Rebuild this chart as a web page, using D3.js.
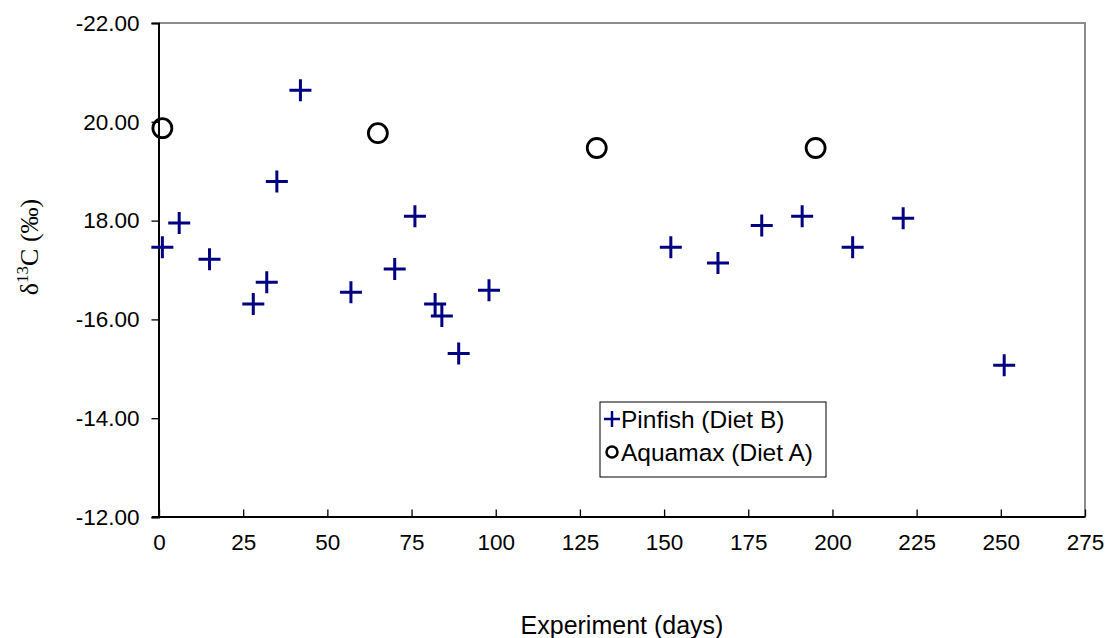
<!DOCTYPE html>
<html>
<head>
<meta charset="utf-8">
<script src="https://cdn.jsdelivr.net/npm/d3@7"></script>
<style>
  body { margin: 0; background: #fff; }
  text { font-family: "Liberation Sans", Arial, sans-serif; }
</style>
</head>
<body>
<div id="chart"></div>
<script>
//Data
var pinfishDays = [1, 6, 15, 28, 32, 35, 42, 57, 70, 76, 82, 84, 89, 98, 152, 166, 179, 191, 206, 221, 251];
var pinfishD13C = [-17.46, -17.95, -17.22, -16.31, -16.75, -18.79, -20.64, -16.55, -17.02, -18.09, -16.31, -16.07, -15.31, -16.59, -17.46, -17.14, -17.9, -18.09, -17.46, -18.05, -15.07];
var aquamaxDays = [1, 65, 130, 195];
var aquamaxD13C = [-19.87, -19.77, -19.47, -19.47];

var xTicks = [0, 25, 50, 75, 100, 125, 150, 175, 200, 225, 250, 275];
var yTicks = [-22, -20, -18, -16, -14, -12];
var yTickLabels = ["-22.00", "20.00", "18.00", "-16.00", "-14.00", "-12.00"];

var seriesNames = ["Pinfish (Diet B)", "Aquamax (Diet A)"];

//Constants for the SVG
var width = 1109,
  height = 638;

var plotLeft = 159,
  plotRight = 1085,
  plotTop = 23,
  plotBottom = 517;

var x = d3.scaleLinear().domain([0, 275]).range([plotLeft, plotRight]);
var y = d3.scaleLinear().domain([-22, -12]).range([plotTop, plotBottom]);

var svg = d3
  .select("#chart")
  .append("svg")
  .attr("width", width)
  .attr("height", height);

//Plot area border (grey top and right)
svg
  .append("path")
  .attr("d", "M" + plotLeft + "," + plotTop + "H" + plotRight + "V" + plotBottom)
  .attr("fill", "none")
  .attr("stroke", "#8c8c8c")
  .attr("stroke-width", 2);

//Y axis, ticks pointing out (-0.5 undoes d3's half pixel offset so the 2px line is crisp)
var yAxis = svg
  .append("g")
  .attr("transform", "translate(" + (plotLeft - 0.5) + ",0)")
  .call(
    d3
      .axisLeft(y)
      .tickValues(yTicks)
      .tickSize(7)
      .tickPadding(12)
      .tickFormat(function (d, i) {
        return yTickLabels[i];
      })
  );

//X axis, ticks pointing in
var xAxis = svg
  .append("g")
  .attr("transform", "translate(0," + (plotBottom - 0.5) + ")")
  .call(
    d3
      .axisBottom(x)
      .tickValues(xTicks)
      .tickSizeInner(-7)
      .tickSizeOuter(0)
      .tickPadding(18)
  );

[yAxis, xAxis].forEach(function (ax) {
  ax.select(".domain").attr("stroke", "#000").attr("stroke-width", 2);
  ax.selectAll(".tick line").attr("stroke", "#000").attr("stroke-width", 1.3);
  ax.selectAll(".tick text")
    .attr("fill", "#000")
    .style("font-size", "22.5px")
    .style("font-family", "'Liberation Sans', Arial, sans-serif");
});

//x axis line runs a bit left of the y axis
svg
  .append("line")
  .attr("x1", plotLeft - 7)
  .attr("x2", plotLeft)
  .attr("y1", plotBottom)
  .attr("y2", plotBottom)
  .attr("stroke", "#000")
  .attr("stroke-width", 2);

//Axis titles
svg
  .append("text")
  .attr("x", (plotLeft + plotRight) / 2)
  .attr("y", 634)
  .attr("text-anchor", "middle")
  .style("font-size", "25px")
  .text("Experiment (days)");

var yTitle = svg
  .append("text")
  .attr("transform", "translate(38,247) rotate(-90)")
  .attr("text-anchor", "middle")
  .style("font-family", "'Liberation Serif', 'Times New Roman', serif")
  .style("font-size", "26px");
yTitle.append("tspan").text("δ");
yTitle.append("tspan").attr("dy", -10).style("font-size", "17px").text("13");
yTitle.append("tspan").attr("dy", 10).text("C (‰)");

//Markers
function crossPath(s) {
  return "M" + -s + ",0H" + s + "M0," + -s + "V" + s;
}

var pinfish = pinfishDays.map(function (d, i) {
  return { day: d, value: pinfishD13C[i] };
});
var aquamax = aquamaxDays.map(function (d, i) {
  return { day: d, value: aquamaxD13C[i] };
});

svg
  .append("g")
  .selectAll("circle")
  .data(aquamax)
  .enter()
  .append("circle")
  .attr("cx", function (d) {
    return x(d.day);
  })
  .attr("cy", function (d) {
    return y(d.value);
  })
  .attr("r", 9.5)
  .attr("fill", "none")
  .attr("stroke", "#000")
  .attr("stroke-width", 2.8);

svg
  .append("g")
  .selectAll("path")
  .data(pinfish)
  .enter()
  .append("path")
  .attr("transform", function (d) {
    return "translate(" + x(d.day) + "," + y(d.value) + ")";
  })
  .attr("d", crossPath(11))
  .attr("stroke", "#000080")
  .attr("stroke-width", 3);

//Legend
var legend = svg.append("g").attr("transform", "translate(600,402)");
legend
  .append("rect")
  .attr("width", 226)
  .attr("height", 75)
  .attr("fill", "#fff")
  .attr("stroke", "#000")
  .attr("stroke-width", 1);

legend
  .append("path")
  .attr("transform", "translate(12,17)")
  .attr("d", crossPath(8))
  .attr("stroke", "#000080")
  .attr("stroke-width", 2.5);
legend
  .append("circle")
  .attr("cx", 12)
  .attr("cy", 50)
  .attr("r", 5.5)
  .attr("fill", "none")
  .attr("stroke", "#000")
  .attr("stroke-width", 2.5);

legend
  .selectAll("text")
  .data(seriesNames)
  .enter()
  .append("text")
  .attr("x", 21)
  .attr("y", function (d, i) {
    return 26 + i * 33;
  })
  .style("font-size", "24.5px")
  .text(function (d) {
    return d;
  });
</script>
</body>
</html>
